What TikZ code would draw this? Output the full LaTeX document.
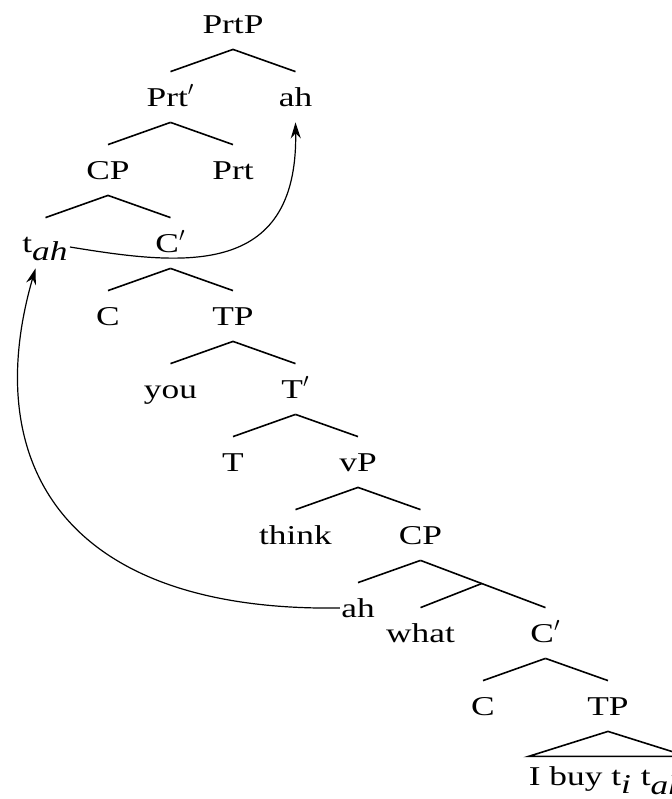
\documentclass[tikz,border=0pt]{standalone}
\usepackage{fontspec}
\setmainfont{Liberation Serif}[FakeStretch=1.3]
\usetikzlibrary{arrows.meta, positioning, calc}
\tikzset{
  cat/.style={text height=9pt, text depth=0pt, inner ysep=8pt, inner xsep=0.5pt},
  branch/.style={line width=0.8pt},
  move/.style={line width=0.6pt, -{Stealth[length=8pt,width=5pt]}}
}

\begin{document}
\begin{tikzpicture}[x=0.5pt, y=-0.5pt, on grid, node distance=36.5pt and 31.25pt,
    every node/.style={cat}, font=\fontsize{13.6pt}{16pt}\selectfont]
    \useasboundingbox (0,0) rectangle (671,799);
    % upper part of the tree
    \node (prtp) at (233,24) {PrtP};
    \node[below left=of prtp] (prtbar) {Prt$'$};
    \node[below right=of prtp] (ahtop) {ah};
    \node[below left=of prtbar] (cpa) {CP};
    \node[below right=of prtbar] (prt) {Prt};
    \node[below left=of cpa] (tah) {t$_{\textit{ah}}$};
    \node[below right=of cpa] (cbara) {C$'$};
    \node[below left=of cbara] (ca) {C};
    \node[below right=of cbara] (tpa) {TP};
    \node[below left=of tpa] (you) {you};
    \node[below right=of tpa] (tbar) {T$'$};
    \node[below left=of tbar] (t) {T};
    \node[below right=of tbar] (vp) {vP};
    \node[below left=of vp] (think) {think};
    \node[below right=of vp] (cpb) {CP};
    % embedded clause
    \node[below left=of cpb] (ahlow) {ah};
    \node[below=49pt of cpb] (what) {what};
    \node[right=62.5pt of what] (cbarb) {C$'$};
    \node[below left=of cbarb] (cb) {C};
    \node[below right=of cbarb] (tpb) {TP};
    \node[anchor=north, inner ysep=5.5pt, inner xsep=0pt] (buy) at ([yshift=-12.5pt]tpb.south) {I buy t$_{\textit{i}}$ t$_{\textit{ah}}$};
    \coordinate (split) at ($(cpb.south)!0.49!(cbarb.north)$);

    \foreach \a/\b in {prtp/prtbar, prtp/ahtop, prtbar/cpa, prtbar/prt, cpa/tah, cpa/cbara,
        cbara/ca, cbara/tpa, tpa/you, tpa/tbar, tbar/t, tbar/vp, vp/think, vp/cpb,
        cpb/ahlow, cbarb/cb, cbarb/tpb}
        \draw[branch] (\a.south) -- (\b.north);
    \draw[branch] (cpb.south) -- (split) -- (cbarb.north);
    \draw[branch] (split) -- (what.north);
    \draw[branch] (tpb.south) -- (buy.north west) -- (buy.north east) -- cycle;

    % movement arrows
    \draw[move] ([yshift=-2pt]tah.east) .. controls (180,265) and (298,280) .. (ahtop.south);
    \draw[move] (ahlow.west) .. controls (60,612) and (-20,460) .. ([xshift=-5pt]tah.south);
\end{tikzpicture}
\end{document}
